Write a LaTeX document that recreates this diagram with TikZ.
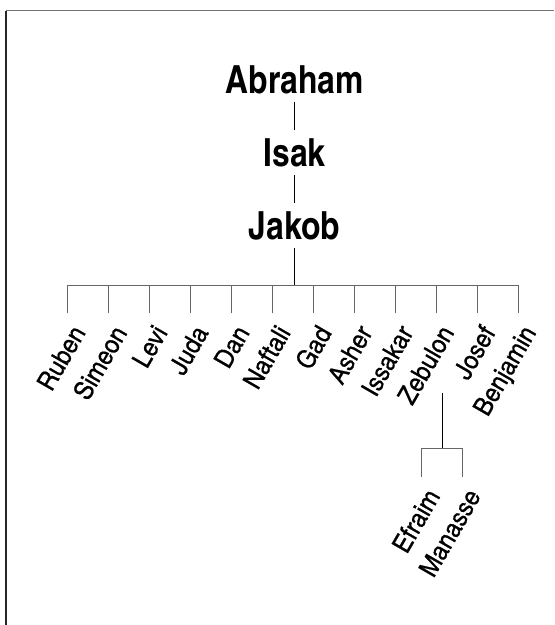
\documentclass[tikz,border=0pt]{standalone}
\usepackage{fontspec}
\setmainfont{texgyreheroscn}[Extension=.otf, UprightFont=*-regular, BoldFont=*-bold]
\newfontfamily\sonfont{texgyreheroscn}[Extension=.otf, UprightFont=*-regular,
  FakeStretch=1.1, FakeBold=0.6]
\usepackage{tikz}

\begin{document}
\begin{tikzpicture}[
      patriarch/.style={anchor=base, inner xsep=2pt, inner ysep=0.28cm,
                        font=\fontsize{38.6}{44}\selectfont\bfseries},
      son/.style={anchor=north east, rotate=60, inner sep=7pt,
                  font=\sonfont\fontsize{26}{30}\selectfont},
      stem/.style={draw=black, line width=0.8pt},
      branch/.style={draw=black!60, line width=1pt},
      rule/.style={line width=1.3pt}
    ]
    \useasboundingbox (0,0) rectangle (19.39,-21.875);

    % --- Frame (cut at the page edge) ----------------------------------------
    \draw[rule, black!85] (0.21,-21.875) -- (0.21,-0.37);
    \draw[rule, black!55] (0.21,-0.37) -- (19.39,-0.37);

    % --- Line of descent ------------------------------------------------------
    \node[patriarch] (abraham) at (10.31,-3.255) {Abraham};
    \node[patriarch] (isak)    at (10.31,-5.81)  {Isak};
    \node[patriarch] (jakob)   at (10.31,-8.365) {Jakob};

    \draw[stem] (abraham) -- (isak);
    \draw[stem] (isak) -- (jakob);

    \coordinate (foot) at (10.31,-9.975);
    \draw[stem] (jakob) -- (foot);

    % --- The twelve sons -----------------------------------------------------
    \node[son] (ruben)    at (2.36,-10.965)  {Ruben};
    \node[son] (simeon)   at (3.80,-10.965)  {Simeon};
    \node[son] (levi)     at (5.23,-10.965)  {Levi};
    \node[son] (juda)     at (6.66,-10.965)  {Juda};
    \node[son] (dan)      at (8.10,-10.965)  {Dan};
    \node[son] (naftali)  at (9.53,-10.965)  {Naftali};
    \node[son] (gad)      at (10.96,-10.965) {Gad};
    \node[son] (asher)    at (12.40,-10.965) {Asher};
    \node[son] (issakar)  at (13.83,-10.965) {Issakar};
    \node[son] (zebulon)  at (15.26,-10.965) {Zebulon};
    \node[son] (josef)    at (16.70,-10.965) {Josef};
    \node[son] (benjamin) at (18.13,-10.965) {Benjamin};

    \draw[branch] (ruben.north east) |- (foot);
    \draw[branch] (simeon.north east) |- (foot);
    \draw[branch] (levi.north east) |- (foot);
    \draw[branch] (juda.north east) |- (foot);
    \draw[branch] (dan.north east) |- (foot);
    \draw[branch] (naftali.north east) |- (foot);
    \draw[branch] (gad.north east) |- (foot);
    \draw[branch] (asher.north east) |- (foot);
    \draw[branch] (issakar.north east) |- (foot);
    \draw[branch] (zebulon.north east) |- (foot);
    \draw[branch] (josef.north east) |- (foot);
    \draw[branch] (benjamin.north east) |- (foot);

    % --- Grandsons ------------------------------------------------------------
    \coordinate (zebroot) at (15.48,-13.745);
    \coordinate (zebfoot) at (15.48,-15.69);
    \draw[stem] (zebroot) -- (zebfoot);

    \node[son] (efraim)  at (14.76,-16.685) {Efraim};
    \node[son] (manasse) at (16.19,-16.685) {Manasse};

    \draw[branch] (efraim.north east) |- (zebfoot);
    \draw[branch] (manasse.north east) |- (zebfoot);
  \end{tikzpicture}
\end{document}
